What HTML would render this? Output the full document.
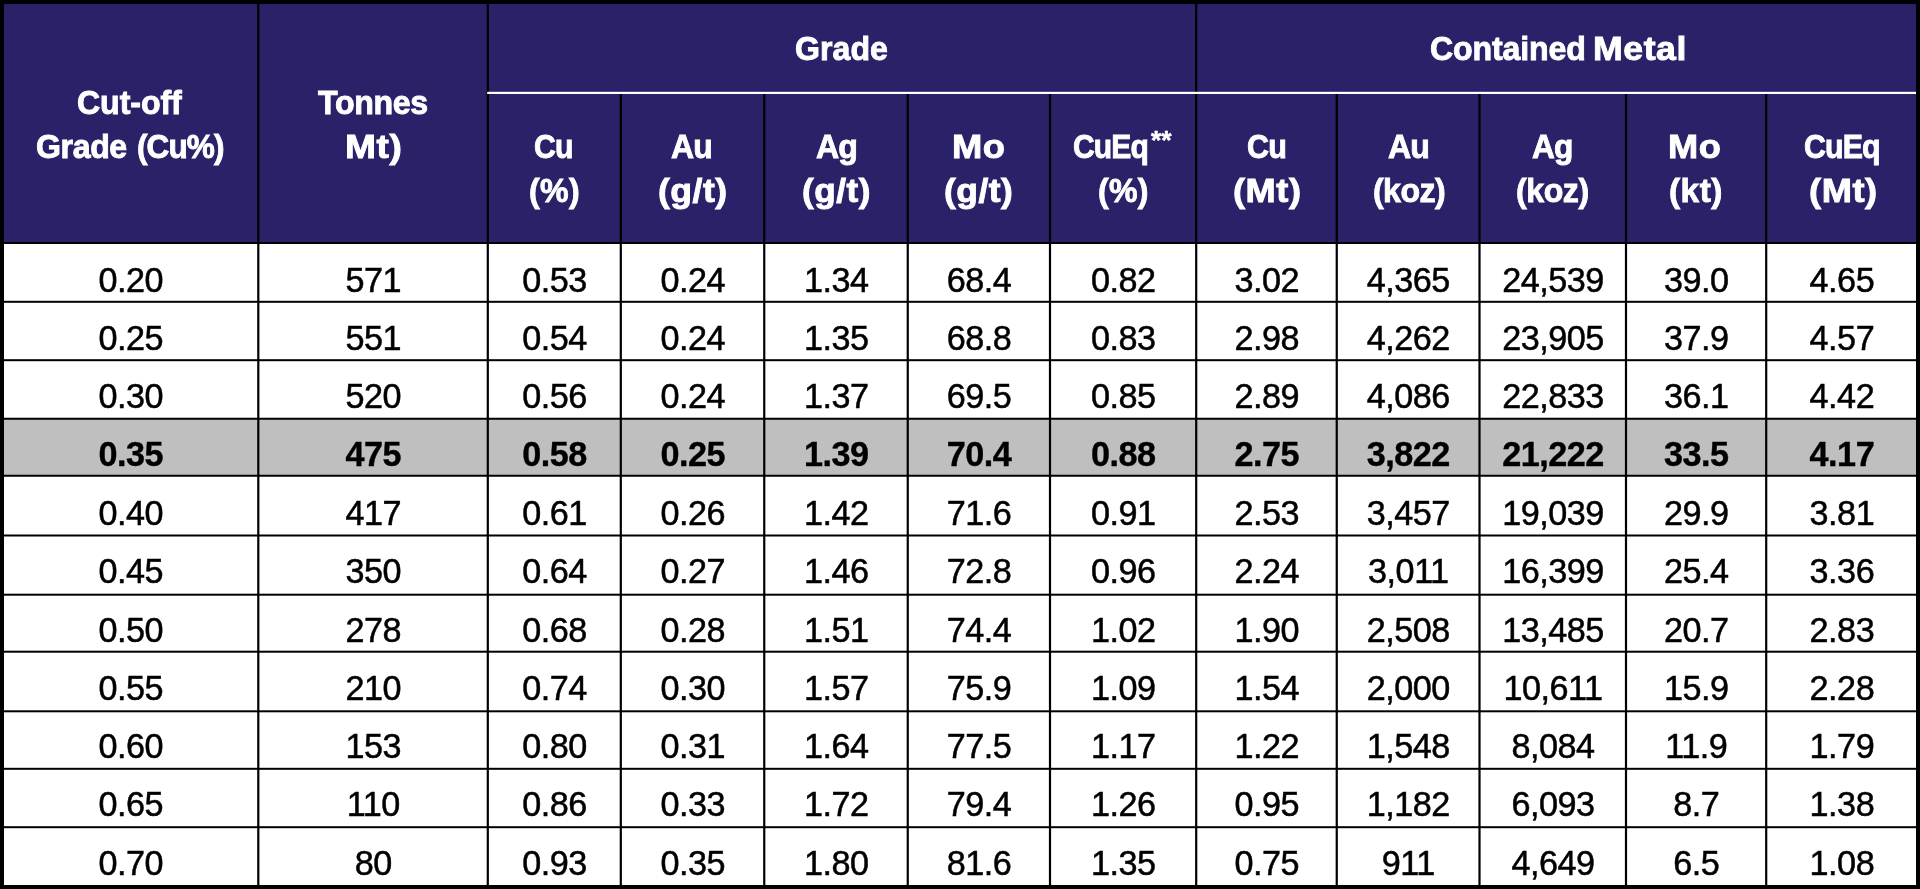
<!DOCTYPE html>
<html lang="en"><head><meta charset="utf-8"><title>Cut-off grade sensitivity</title>
<style>
html,body{margin:0;padding:0;background:#fff;}
body{width:1920px;height:889px;overflow:hidden;position:relative;font-family:"Liberation Sans",sans-serif;}
#grid{position:absolute;left:0;top:0;width:1920px;height:889px;}
#txt{position:absolute;left:0;top:0;width:1920px;height:889px;will-change:transform;}
.t{position:absolute;white-space:nowrap;line-height:1;transform-origin:0 0;margin:0;padding:0;}
.h{color:#fff;font-weight:bold;font-size:33.8px;-webkit-text-stroke:0.9px #fff;}
.d{color:#000;font-size:34.2px;letter-spacing:-0.5px;text-align:center;-webkit-text-stroke:0.5px #000;}
.b{font-weight:bold;-webkit-text-stroke:0.4px #000;}
</style></head><body>

<svg id="grid" width="1920" height="889" viewBox="0 0 1920 889">
<rect x="0" y="0" width="1920" height="889" fill="#000"/>
<rect x="4.0" y="4.0" width="1912.0" height="881.0" fill="#fff"/>
<rect x="4.0" y="4.0" width="1912.0" height="239.0" fill="#292268"/>
<rect x="4.0" y="418.75" width="1912.0" height="57.0" fill="#bfbfbf"/>
<rect x="4.0" y="242.00" width="1912.0" height="2.0" fill="#000"/>
<rect x="4.0" y="300.80" width="1912.0" height="2.0" fill="#000"/>
<rect x="4.0" y="359.20" width="1912.0" height="2.0" fill="#000"/>
<rect x="4.0" y="417.75" width="1912.0" height="2.0" fill="#000"/>
<rect x="4.0" y="474.75" width="1912.0" height="2.0" fill="#000"/>
<rect x="4.0" y="534.50" width="1912.0" height="2.0" fill="#000"/>
<rect x="4.0" y="593.70" width="1912.0" height="2.0" fill="#000"/>
<rect x="4.0" y="650.70" width="1912.0" height="2.0" fill="#000"/>
<rect x="4.0" y="710.30" width="1912.0" height="2.0" fill="#000"/>
<rect x="4.0" y="767.80" width="1912.0" height="2.0" fill="#000"/>
<rect x="4.0" y="826.20" width="1912.0" height="2.0" fill="#000"/>
<rect x="257.20" y="4.0" width="2.2" height="881.0" fill="#000"/>
<rect x="486.70" y="4.0" width="2.2" height="881.0" fill="#000"/>
<rect x="619.70" y="92.9" width="2.2" height="792.1" fill="#000"/>
<rect x="763.15" y="92.9" width="2.2" height="792.1" fill="#000"/>
<rect x="906.65" y="92.9" width="2.2" height="792.1" fill="#000"/>
<rect x="1048.90" y="92.9" width="2.2" height="792.1" fill="#000"/>
<rect x="1195.10" y="4.0" width="2.2" height="881.0" fill="#000"/>
<rect x="1335.65" y="92.9" width="2.2" height="792.1" fill="#000"/>
<rect x="1478.40" y="92.9" width="2.2" height="792.1" fill="#000"/>
<rect x="1624.90" y="92.9" width="2.2" height="792.1" fill="#000"/>
<rect x="1765.10" y="92.9" width="2.2" height="792.1" fill="#000"/>
<rect x="487.20" y="91.80" width="1428.80" height="2.2" fill="#fff"/>
</svg>
<div id="txt">
<div class="t h" style="left:76.55px;top:86.00px;letter-spacing:-0.08px;transform:scaleX(0.9500)">Cut-off</div>
<div class="t h" style="left:36.15px;top:130.00px;letter-spacing:-0.42px;transform:scaleX(0.9500)">Grade</div>
<div class="t h" style="left:136.57px;top:130.00px;letter-spacing:-1.00px;transform:scaleX(0.9348)">(Cu%)</div>
<div class="t h" style="left:317.80px;top:86.00px;letter-spacing:-0.36px;transform:scaleX(0.9500)">Tonnes</div>
<div class="t h" style="left:344.70px;top:130.00px;letter-spacing:0.50px;transform:scaleX(1.0990)">Mt)</div>
<div class="t h" style="left:795.30px;top:32.00px;letter-spacing:0.02px;transform:scaleX(0.9500)">Grade</div>
<div class="t h" style="left:1430.45px;top:32.00px;letter-spacing:-0.14px;transform:scaleX(0.9500)">Contained</div>
<div class="t h" style="left:1592.89px;top:32.00px;letter-spacing:0.50px;transform:scaleX(1.0560)">Metal</div>
<div class="t h" style="left:533.81px;top:130.00px;letter-spacing:-1.00px;transform:scaleX(0.8948)">Cu</div>
<div class="t h" style="left:529.25px;top:174.00px;letter-spacing:0.40px;transform:scaleX(0.9500)">(%)</div>
<div class="t h" style="left:671.40px;top:130.00px;letter-spacing:-1.00px;transform:scaleX(0.9456)">Au</div>
<div class="t h" style="left:658.20px;top:174.00px;letter-spacing:0.50px;transform:scaleX(1.0505)">(g/t)</div>
<div class="t h" style="left:815.90px;top:130.00px;letter-spacing:-0.99px;transform:scaleX(0.9500)">Ag</div>
<div class="t h" style="left:802.06px;top:174.00px;letter-spacing:0.50px;transform:scaleX(1.0402)">(g/t)</div>
<div class="t h" style="left:952.15px;top:130.00px;letter-spacing:0.50px;transform:scaleX(1.0760)">Mo</div>
<div class="t h" style="left:944.35px;top:174.00px;letter-spacing:0.50px;transform:scaleX(1.0465)">(g/t)</div>
<div class="t h" style="left:1073.01px;top:130.00px;letter-spacing:-1.00px;transform:scaleX(0.8899)">CuEq</div>
<div class="t h" style="left:1098.25px;top:174.00px;letter-spacing:0.22px;transform:scaleX(0.9500)">(%)</div>
<div class="t h" style="left:1247.30px;top:130.00px;letter-spacing:-1.00px;transform:scaleX(0.9032)">Cu</div>
<div class="t h" style="left:1232.53px;top:174.00px;letter-spacing:0.50px;transform:scaleX(1.0726)">(Mt)</div>
<div class="t h" style="left:1388.10px;top:130.00px;letter-spacing:-0.99px;transform:scaleX(0.9500)">Au</div>
<div class="t h" style="left:1372.65px;top:174.00px;letter-spacing:-0.60px;transform:scaleX(0.9500)">(koz)</div>
<div class="t h" style="left:1532.10px;top:130.00px;letter-spacing:-1.00px;transform:scaleX(0.9362)">Ag</div>
<div class="t h" style="left:1515.55px;top:174.00px;letter-spacing:-0.46px;transform:scaleX(0.9500)">(koz)</div>
<div class="t h" style="left:1667.86px;top:130.00px;letter-spacing:0.50px;transform:scaleX(1.0717)">Mo</div>
<div class="t h" style="left:1668.71px;top:174.00px;letter-spacing:0.50px;transform:scaleX(0.9864)">(kt)</div>
<div class="t h" style="left:1803.50px;top:130.00px;letter-spacing:-1.00px;transform:scaleX(0.8984)">CuEq</div>
<div class="t h" style="left:1808.73px;top:174.00px;letter-spacing:0.50px;transform:scaleX(1.0742)">(Mt)</div>
<div class="t h" style="font-size:26.0px;-webkit-text-stroke-width:0.5px;left:1150.80px;top:127.00px;transform:scaleX(1.0133)">**</div>
<div class="t d" style="left:4.25px;width:253.20px;top:263.00px">0.20</div>
<div class="t d" style="left:259.65px;width:227.30px;top:263.00px">571</div>
<div class="t d" style="left:489.15px;width:130.80px;top:263.00px">0.53</div>
<div class="t d" style="left:622.15px;width:141.25px;top:263.00px">0.24</div>
<div class="t d" style="left:765.60px;width:141.30px;top:263.00px">1.34</div>
<div class="t d" style="left:909.10px;width:140.05px;top:263.00px">68.4</div>
<div class="t d" style="left:1051.35px;width:144.00px;top:263.00px">0.82</div>
<div class="t d" style="left:1197.55px;width:138.35px;top:263.00px">3.02</div>
<div class="t d" style="left:1338.10px;width:140.55px;top:263.00px">4,365</div>
<div class="t d" style="left:1480.85px;width:144.30px;top:263.00px">24,539</div>
<div class="t d" style="left:1627.35px;width:138.00px;top:263.00px">39.0</div>
<div class="t d" style="left:1767.55px;width:148.70px;top:263.00px">4.65</div>
<div class="t d" style="left:4.25px;width:253.20px;top:321.00px">0.25</div>
<div class="t d" style="left:259.65px;width:227.30px;top:321.00px">551</div>
<div class="t d" style="left:489.15px;width:130.80px;top:321.00px">0.54</div>
<div class="t d" style="left:622.15px;width:141.25px;top:321.00px">0.24</div>
<div class="t d" style="left:765.60px;width:141.30px;top:321.00px">1.35</div>
<div class="t d" style="left:909.10px;width:140.05px;top:321.00px">68.8</div>
<div class="t d" style="left:1051.35px;width:144.00px;top:321.00px">0.83</div>
<div class="t d" style="left:1197.55px;width:138.35px;top:321.00px">2.98</div>
<div class="t d" style="left:1338.10px;width:140.55px;top:321.00px">4,262</div>
<div class="t d" style="left:1480.85px;width:144.30px;top:321.00px">23,905</div>
<div class="t d" style="left:1627.35px;width:138.00px;top:321.00px">37.9</div>
<div class="t d" style="left:1767.55px;width:148.70px;top:321.00px">4.57</div>
<div class="t d" style="left:4.25px;width:253.20px;top:379.00px">0.30</div>
<div class="t d" style="left:259.65px;width:227.30px;top:379.00px">520</div>
<div class="t d" style="left:489.15px;width:130.80px;top:379.00px">0.56</div>
<div class="t d" style="left:622.15px;width:141.25px;top:379.00px">0.24</div>
<div class="t d" style="left:765.60px;width:141.30px;top:379.00px">1.37</div>
<div class="t d" style="left:909.10px;width:140.05px;top:379.00px">69.5</div>
<div class="t d" style="left:1051.35px;width:144.00px;top:379.00px">0.85</div>
<div class="t d" style="left:1197.55px;width:138.35px;top:379.00px">2.89</div>
<div class="t d" style="left:1338.10px;width:140.55px;top:379.00px">4,086</div>
<div class="t d" style="left:1480.85px;width:144.30px;top:379.00px">22,833</div>
<div class="t d" style="left:1627.35px;width:138.00px;top:379.00px">36.1</div>
<div class="t d" style="left:1767.55px;width:148.70px;top:379.00px">4.42</div>
<div class="t d b" style="left:4.25px;width:253.20px;top:437.00px">0.35</div>
<div class="t d b" style="left:259.65px;width:227.30px;top:437.00px">475</div>
<div class="t d b" style="left:489.15px;width:130.80px;top:437.00px">0.58</div>
<div class="t d b" style="left:622.15px;width:141.25px;top:437.00px">0.25</div>
<div class="t d b" style="left:765.60px;width:141.30px;top:437.00px">1.39</div>
<div class="t d b" style="left:909.10px;width:140.05px;top:437.00px">70.4</div>
<div class="t d b" style="left:1051.35px;width:144.00px;top:437.00px">0.88</div>
<div class="t d b" style="left:1197.55px;width:138.35px;top:437.00px">2.75</div>
<div class="t d b" style="left:1338.10px;width:140.55px;top:437.00px">3,822</div>
<div class="t d b" style="left:1480.85px;width:144.30px;top:437.00px">21,222</div>
<div class="t d b" style="left:1627.35px;width:138.00px;top:437.00px">33.5</div>
<div class="t d b" style="left:1767.55px;width:148.70px;top:437.00px">4.17</div>
<div class="t d" style="left:4.25px;width:253.20px;top:496.00px">0.40</div>
<div class="t d" style="left:259.65px;width:227.30px;top:496.00px">417</div>
<div class="t d" style="left:489.15px;width:130.80px;top:496.00px">0.61</div>
<div class="t d" style="left:622.15px;width:141.25px;top:496.00px">0.26</div>
<div class="t d" style="left:765.60px;width:141.30px;top:496.00px">1.42</div>
<div class="t d" style="left:909.10px;width:140.05px;top:496.00px">71.6</div>
<div class="t d" style="left:1051.35px;width:144.00px;top:496.00px">0.91</div>
<div class="t d" style="left:1197.55px;width:138.35px;top:496.00px">2.53</div>
<div class="t d" style="left:1338.10px;width:140.55px;top:496.00px">3,457</div>
<div class="t d" style="left:1480.85px;width:144.30px;top:496.00px">19,039</div>
<div class="t d" style="left:1627.35px;width:138.00px;top:496.00px">29.9</div>
<div class="t d" style="left:1767.55px;width:148.70px;top:496.00px">3.81</div>
<div class="t d" style="left:4.25px;width:253.20px;top:554.00px">0.45</div>
<div class="t d" style="left:259.65px;width:227.30px;top:554.00px">350</div>
<div class="t d" style="left:489.15px;width:130.80px;top:554.00px">0.64</div>
<div class="t d" style="left:622.15px;width:141.25px;top:554.00px">0.27</div>
<div class="t d" style="left:765.60px;width:141.30px;top:554.00px">1.46</div>
<div class="t d" style="left:909.10px;width:140.05px;top:554.00px">72.8</div>
<div class="t d" style="left:1051.35px;width:144.00px;top:554.00px">0.96</div>
<div class="t d" style="left:1197.55px;width:138.35px;top:554.00px">2.24</div>
<div class="t d" style="left:1338.10px;width:140.55px;top:554.00px">3,011</div>
<div class="t d" style="left:1480.85px;width:144.30px;top:554.00px">16,399</div>
<div class="t d" style="left:1627.35px;width:138.00px;top:554.00px">25.4</div>
<div class="t d" style="left:1767.55px;width:148.70px;top:554.00px">3.36</div>
<div class="t d" style="left:4.25px;width:253.20px;top:613.00px">0.50</div>
<div class="t d" style="left:259.65px;width:227.30px;top:613.00px">278</div>
<div class="t d" style="left:489.15px;width:130.80px;top:613.00px">0.68</div>
<div class="t d" style="left:622.15px;width:141.25px;top:613.00px">0.28</div>
<div class="t d" style="left:765.60px;width:141.30px;top:613.00px">1.51</div>
<div class="t d" style="left:909.10px;width:140.05px;top:613.00px">74.4</div>
<div class="t d" style="left:1051.35px;width:144.00px;top:613.00px">1.02</div>
<div class="t d" style="left:1197.55px;width:138.35px;top:613.00px">1.90</div>
<div class="t d" style="left:1338.10px;width:140.55px;top:613.00px">2,508</div>
<div class="t d" style="left:1480.85px;width:144.30px;top:613.00px">13,485</div>
<div class="t d" style="left:1627.35px;width:138.00px;top:613.00px">20.7</div>
<div class="t d" style="left:1767.55px;width:148.70px;top:613.00px">2.83</div>
<div class="t d" style="left:4.25px;width:253.20px;top:671.00px">0.55</div>
<div class="t d" style="left:259.65px;width:227.30px;top:671.00px">210</div>
<div class="t d" style="left:489.15px;width:130.80px;top:671.00px">0.74</div>
<div class="t d" style="left:622.15px;width:141.25px;top:671.00px">0.30</div>
<div class="t d" style="left:765.60px;width:141.30px;top:671.00px">1.57</div>
<div class="t d" style="left:909.10px;width:140.05px;top:671.00px">75.9</div>
<div class="t d" style="left:1051.35px;width:144.00px;top:671.00px">1.09</div>
<div class="t d" style="left:1197.55px;width:138.35px;top:671.00px">1.54</div>
<div class="t d" style="left:1338.10px;width:140.55px;top:671.00px">2,000</div>
<div class="t d" style="left:1480.85px;width:144.30px;top:671.00px">10,611</div>
<div class="t d" style="left:1627.35px;width:138.00px;top:671.00px">15.9</div>
<div class="t d" style="left:1767.55px;width:148.70px;top:671.00px">2.28</div>
<div class="t d" style="left:4.25px;width:253.20px;top:729.00px">0.60</div>
<div class="t d" style="left:259.65px;width:227.30px;top:729.00px">153</div>
<div class="t d" style="left:489.15px;width:130.80px;top:729.00px">0.80</div>
<div class="t d" style="left:622.15px;width:141.25px;top:729.00px">0.31</div>
<div class="t d" style="left:765.60px;width:141.30px;top:729.00px">1.64</div>
<div class="t d" style="left:909.10px;width:140.05px;top:729.00px">77.5</div>
<div class="t d" style="left:1051.35px;width:144.00px;top:729.00px">1.17</div>
<div class="t d" style="left:1197.55px;width:138.35px;top:729.00px">1.22</div>
<div class="t d" style="left:1338.10px;width:140.55px;top:729.00px">1,548</div>
<div class="t d" style="left:1480.85px;width:144.30px;top:729.00px">8,084</div>
<div class="t d" style="left:1627.35px;width:138.00px;top:729.00px">11.9</div>
<div class="t d" style="left:1767.55px;width:148.70px;top:729.00px">1.79</div>
<div class="t d" style="left:4.25px;width:253.20px;top:787.00px">0.65</div>
<div class="t d" style="left:259.65px;width:227.30px;top:787.00px">110</div>
<div class="t d" style="left:489.15px;width:130.80px;top:787.00px">0.86</div>
<div class="t d" style="left:622.15px;width:141.25px;top:787.00px">0.33</div>
<div class="t d" style="left:765.60px;width:141.30px;top:787.00px">1.72</div>
<div class="t d" style="left:909.10px;width:140.05px;top:787.00px">79.4</div>
<div class="t d" style="left:1051.35px;width:144.00px;top:787.00px">1.26</div>
<div class="t d" style="left:1197.55px;width:138.35px;top:787.00px">0.95</div>
<div class="t d" style="left:1338.10px;width:140.55px;top:787.00px">1,182</div>
<div class="t d" style="left:1480.85px;width:144.30px;top:787.00px">6,093</div>
<div class="t d" style="left:1627.35px;width:138.00px;top:787.00px">8.7</div>
<div class="t d" style="left:1767.55px;width:148.70px;top:787.00px">1.38</div>
<div class="t d" style="left:4.25px;width:253.20px;top:846.00px">0.70</div>
<div class="t d" style="left:259.65px;width:227.30px;top:846.00px">80</div>
<div class="t d" style="left:489.15px;width:130.80px;top:846.00px">0.93</div>
<div class="t d" style="left:622.15px;width:141.25px;top:846.00px">0.35</div>
<div class="t d" style="left:765.60px;width:141.30px;top:846.00px">1.80</div>
<div class="t d" style="left:909.10px;width:140.05px;top:846.00px">81.6</div>
<div class="t d" style="left:1051.35px;width:144.00px;top:846.00px">1.35</div>
<div class="t d" style="left:1197.55px;width:138.35px;top:846.00px">0.75</div>
<div class="t d" style="left:1338.10px;width:140.55px;top:846.00px">911</div>
<div class="t d" style="left:1480.85px;width:144.30px;top:846.00px">4,649</div>
<div class="t d" style="left:1627.35px;width:138.00px;top:846.00px">6.5</div>
<div class="t d" style="left:1767.55px;width:148.70px;top:846.00px">1.08</div>
</div>
</body></html>
